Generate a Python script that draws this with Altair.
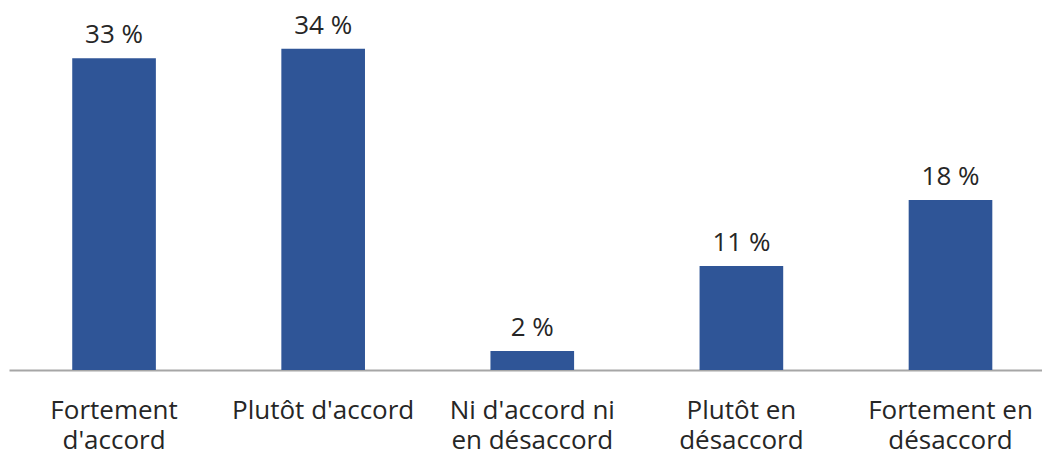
import json
import altair as alt
import pandas as pd

# Survey responses (share of respondents, %)
categories = [
    "Fortement d'accord",
    "Plutôt d'accord",
    "Ni d'accord ni en désaccord",
    "Plutôt en désaccord",
    "Fortement en désaccord",
]
axis_labels = [
    ["Fortement", "d'accord"],
    ["Plutôt d'accord"],
    ["Ni d'accord ni", "en désaccord"],
    ["Plutôt en", "désaccord"],
    ["Fortement en", "désaccord"],
]
values = [33, 34, 2, 11, 18]

df = pd.DataFrame({"cat": categories, "val": values})
df["label"] = df["val"].astype(str) + " %"

FONT = "Open Sans"
TEXT = "#262626"
BLUE = "#2F5597"

# Multi-line axis labels via a lookup in the label expression
label_map = dict(zip(categories, axis_labels))
label_expr = json.dumps(label_map) + "[datum.value]"

x = alt.X(
    "cat:N",
    sort=categories,
    scale=alt.Scale(paddingInner=0.6, paddingOuter=0.27, align=0.56),
    axis=alt.Axis(
        title=None,
        labelExpr=label_expr,
        labelAngle=0,
        labelFont=FONT,
        labelFontSize=26,
        labelColor=TEXT,
        labelLineHeight=30,
        labelPadding=27,
        labelBaseline="top",
        ticks=False,
        domainColor="#A6A6A6",
        domainWidth=2,
        labelLimit=400,
    ),
)
y = alt.Y(
    "val:Q",
    scale=alt.Scale(domain=[0, 38], nice=False),
    axis=None,
)

bars = alt.Chart(df).mark_bar(color=BLUE).encode(x=x, y=y)
text = alt.Chart(df).mark_text(
    font=FONT, fontSize=26, color=TEXT, dy=-15, baseline="alphabetic"
).encode(x=x, y=y, text="label:N")

chart = (
    alt.layer(bars, text)
    .properties(
        width=1033,
        height=359,
        background="white",
        autosize=alt.AutoSizeParams(type="none"),
        padding={"left": 9, "top": 11, "right": 0, "bottom": 84},
    )
    .configure_view(strokeWidth=0, stroke="transparent")
)

chart.save("out.html", embed_options={"renderer": "svg", "actions": False})
